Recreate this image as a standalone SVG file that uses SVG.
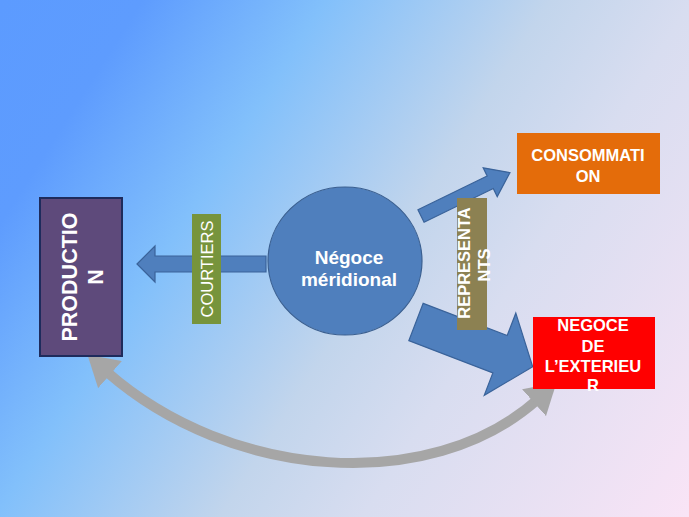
<svg xmlns="http://www.w3.org/2000/svg" width="689" height="517" viewBox="0 0 689 517">
<defs>
<linearGradient id="bg" gradientUnits="userSpaceOnUse" x1="0" y1="0" x2="724" y2="462">
<stop offset="0" stop-color="#5c9bff"/>
<stop offset="0.14" stop-color="#5e9cfe"/>
<stop offset="0.32" stop-color="#82c0fb"/>
<stop offset="0.54" stop-color="#c2d5ec"/>
<stop offset="0.68" stop-color="#d8ddf0"/>
<stop offset="1" stop-color="#f9e4f6"/>
</linearGradient>
<marker id="gh" markerUnits="userSpaceOnUse" markerWidth="32" markerHeight="36" refX="4" refY="18" orient="auto-start-reverse">
<path d="M0,0 L30,18 L0,36 Z" fill="#a6a6a6"/>
</marker>
<style>
.blk{fill:#4f7fbd;stroke:#3a639a;stroke-width:1.2}
.t{font-family:"Liberation Sans",Arial,sans-serif;fill:#fff;text-anchor:middle}
.b{font-weight:bold}
</style>
</defs>
<rect width="689" height="517" fill="url(#bg)"/>
<g id="connectors">
<path d="M107,372 C230,480 430,495 537,400" fill="none" stroke="#a6a6a6" stroke-width="10" marker-start="url(#gh)" marker-end="url(#gh)"/>
<polygon class="blk" points="137,264 155,246 155,256 266,256 266,272 155,272 155,282"/>
<polygon class="blk" transform="translate(421,216) rotate(-26)" points="0,-7 77,-7 77,-16 99,0 77,16 77,7 0,7"/>
<polygon class="blk" transform="translate(416,322) rotate(21)" points="0,-20 90,-20 90,-44 125,0 90,44 90,20 0,20"/>
</g>
<g id="production">
<rect x="40" y="198" width="82" height="158" fill="#5e4a7b" stroke="#1e2b5c" stroke-width="2"/>
<text class="t b" font-size="21.5" transform="translate(77,277) rotate(-90)">PRODUCTIO</text>
<text class="t b" font-size="21.5" transform="translate(103,277) rotate(-90)">N</text>
</g>
<g id="courtiers">
<rect x="192" y="214" width="29" height="110" fill="#77943c"/>
<text class="t" font-size="16.5" transform="translate(213,269) rotate(-90)">COURTIERS</text>
</g>
<g id="negoce-meridional">
<ellipse cx="345" cy="261" rx="77" ry="74" fill="#4f7fbd" stroke="#3a5f90" stroke-width="1.2"/>
<text class="t b" font-size="19" x="349" y="264">Négoce</text>
<text class="t b" font-size="19" x="349" y="286">méridional</text>
</g>
<g id="representants">
<rect x="457" y="198" width="30" height="132" fill="#8c8152"/>
<text class="t b" font-size="16.5" transform="translate(470,263) rotate(-90)">REPRESENTA</text>
<text class="t b" font-size="16.5" transform="translate(490,265) rotate(-90)">NTS</text>
</g>
<g id="consommation">
<rect x="517" y="133" width="143" height="61" fill="#e46c0a"/>
<text class="t b" font-size="16.5" x="588" y="161">CONSOMMATI</text>
<text class="t b" font-size="16.5" x="588" y="182">ON</text>
</g>
<g id="negoce-exterieur">
<rect x="533" y="317" width="122" height="72" fill="#ff0000"/>
<text class="t b" font-size="16.5" x="593" y="331">NEGOCE</text>
<text class="t b" font-size="16.5" x="593" y="352">DE</text>
<text class="t b" font-size="16.5" x="593" y="372">L’EXTERIEU</text>
<text class="t b" font-size="16.5" x="593" y="391">R</text>
</g>
</svg>
